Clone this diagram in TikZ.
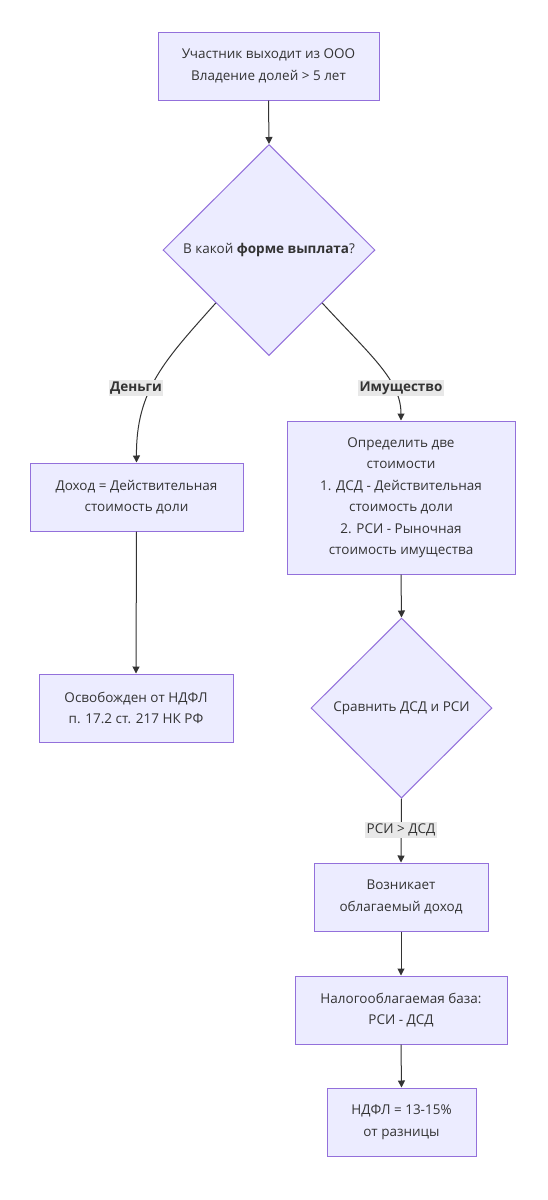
\documentclass[tikz,border=0pt]{standalone}
\usepackage{fontspec}
\setmainfont{Open Sans}
\usetikzlibrary{shapes.geometric,arrows.meta,calc}
\definecolor{nodefill}{HTML}{ECECFF}
\definecolor{nodeline}{HTML}{9370DB}
\definecolor{edgecol}{HTML}{333333}
\definecolor{lblbg}{HTML}{E8E8E8}
\begin{document}
\begin{tikzpicture}[x=1pt,y=-1pt,
  every node/.style={font=\fontsize{13.5}{21.5}\selectfont, text=edgecol},
  box/.style={draw=nodeline, fill=nodefill, line width=1pt, align=center, inner sep=0pt},
  decision/.style={diamond, draw=nodeline, fill=nodefill, line width=1pt, align=center, inner sep=0pt},
  link/.style={draw=edgecol, line width=1pt, -{Triangle[length=7pt,width=7pt]}},
  elabel/.style={fill=lblbg, inner sep=1.5pt, align=center}
]
\useasboundingbox (0,0) rectangle (547,1200);
\fill[white] (0,0) rectangle (547,1200);

\node[box, minimum width=221pt, minimum height=68pt] (start) at (268.5,66) {Участник выходит из ООО\\Владение долей > 5 лет};
\node[decision, minimum width=212pt, minimum height=211pt] (q1) at (269,250) {В какой \textbf{форме выплата}?};
\node[box, minimum width=213pt, minimum height=68pt] (money) at (136.5,497) {Доход = Действительная\\стоимость доли};
\node[box, minimum width=228pt, minimum height=153pt] (prop) at (401,497.5) {Определить две\\стоимости\\1. ДСД - Действительная\\стоимость доли\\2. РСИ - Рыночная\\стоимость имущества};
\node[box, minimum width=194pt, minimum height=68pt] (free) at (136,708) {Освобожден от НДФЛ\\п. 17.2 ст. 217 НК РФ};
\node[decision, minimum width=181pt, minimum height=180pt] (q2) at (401.5,708) {Сравнить ДСД и РСИ};
\node[box, minimum width=174pt, minimum height=68pt] (inc) at (401,897) {Возникает\\облагаемый доход};
\node[box, minimum width=212pt, minimum height=68pt] (base) at (401,1010) {Налогооблагаемая база:\\РСИ - ДСД};
\node[box, minimum width=149pt, minimum height=68pt] (tax) at (401.5,1122) {НДФЛ = 13-15\%\\от разницы};

\draw[link] (start.south) -- (q1.north);
\coordinate (q1sw) at ($(q1.west)!0.5!(q1.south)$);
\coordinate (q1se) at ($(q1.east)!0.5!(q1.south)$);
\draw[link] (q1sw) .. controls (165,360) and (136,390) .. (money.north);
\draw[link] (q1se) .. controls (370,355) and (401,380) .. (prop.north);
\node[elabel, font=\fontsize{13.5}{16}\selectfont\bfseries] (l1) at (136,388) {Деньги};
\node[elabel, font=\fontsize{13.5}{16}\selectfont\bfseries] (l2) at (401,388) {Имущество};
\draw[link] (money.south) -- (free.north);
\draw[link] (prop.south) -- (q2.north);
\draw[link] (q2.south) -- (inc.north);
\node[elabel] (l3) at (401,830) {РСИ > ДСД};
\draw[link] (inc.south) -- (base.north);
\draw[link] (base.south) -- (tax.north);
\end{tikzpicture}
\end{document}
